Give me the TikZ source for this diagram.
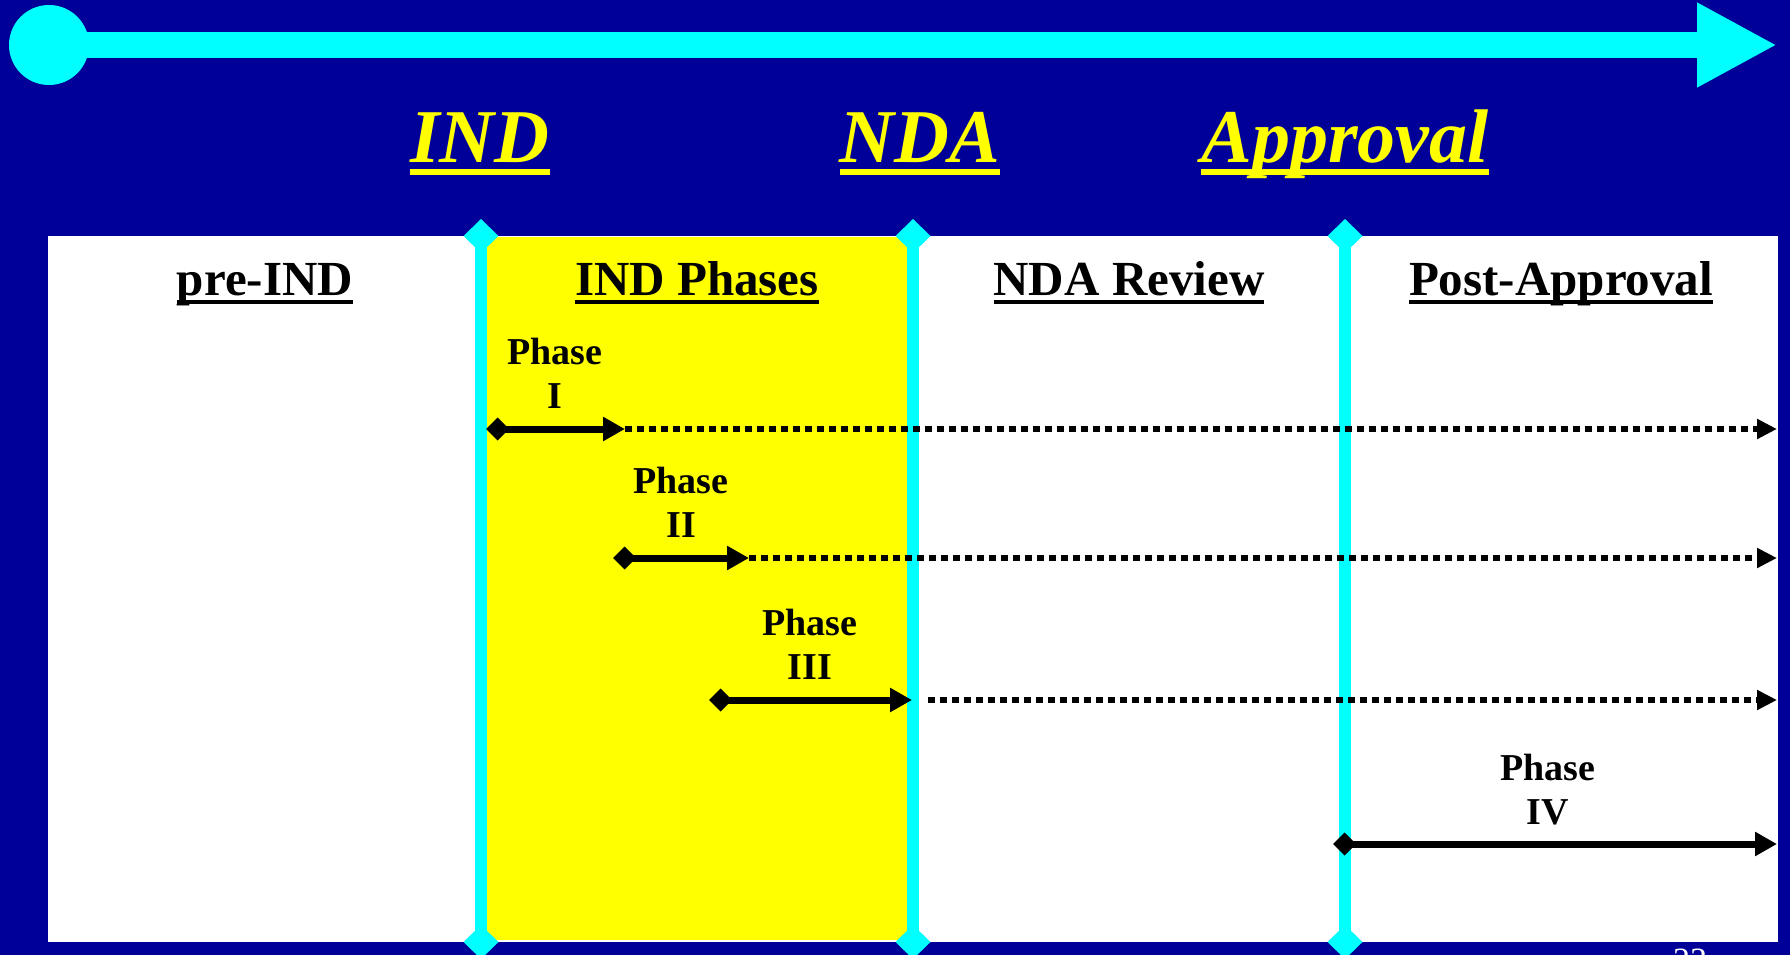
\documentclass[tikz,border=0pt]{standalone}
\usepackage{fontspec}
\setmainfont{Liberation Serif}
\usetikzlibrary{arrows.meta}
\definecolor{bgblue}{RGB}{0,0,153}
\definecolor{cyanc}{RGB}{0,255,255}
\definecolor{yel}{RGB}{255,255,0}
\newcommand\ulbox[3]{\setbox0\hbox{#3}\rlap{\rule[-#2]{\wd0}{#1}}\box0}
\tikzset{
  title/.style={anchor=base, inner sep=0pt, text=yel, font=\fontsize{76}{80}\selectfont\bfseries\itshape},
  hdr/.style={anchor=base, inner sep=0pt, text=black, font=\fontsize{49}{54}\selectfont\bfseries},
  plabel/.style={anchor=south, inner sep=0pt, text depth=0pt, align=center, text=black, font=\fontsize{38}{44}\selectfont\bfseries},
  vline/.style={draw=cyanc, line width=12pt, {Diamond[length=34pt,width=35pt]}-{Diamond[length=34pt,width=35pt]}},
  phasearrow/.style={draw=black, line width=7pt, {Diamond[length=23pt,width=23pt]}-{Triangle[length=22pt,width=23pt]}},
  dotline/.style={draw=black, line width=6pt, dash pattern=on 7pt off 5pt, -{Triangle[length=20pt,width=19pt]}},
  pagenum/.style={anchor=base, inner sep=0pt, text=white, font=\fontsize{34}{36}\selectfont}
}
\begin{document}
\begin{tikzpicture}[x=1pt,y=-1pt]
\useasboundingbox (0,0) rectangle (1790,955);
\fill[bgblue] (0,0) rectangle (1790,955);
% timeline
\node[circle, fill=cyanc, minimum size=80pt, inner sep=0pt] (start) at (49,45) {};
\coordinate (tend) at (1777,45);
\draw[cyanc, line width=26pt, -{Triangle[length=80pt,width=79pt]}] (start.center) -- (tend);
% titles
\node[title] (tind) at (480,162) {\ulbox{6pt}{13pt}{IND}};
\node[title] (tnda) at (920,162) {\ulbox{6pt}{13pt}{NDA}};
\node[title] (tapp) at (1345,162) {\ulbox{6pt}{13pt}{Approval}};
% panel
\fill[white] (48,236) rectangle (1778,942);
\fill[yel] (487,237) rectangle (908,940);
% vertical milestone lines
\coordinate (v1t) at (481,219); \coordinate (v1b) at (481,959);
\coordinate (v2t) at (913,219); \coordinate (v2b) at (913,959);
\coordinate (v3t) at (1345,219); \coordinate (v3b) at (1345,959);
\draw[vline] (v1t) -- (v1b);
\draw[vline] (v2t) -- (v2b);
\draw[vline] (v3t) -- (v3b);
% headers
\node[hdr] (hpre) at (265,295) {\ulbox{4pt}{9pt}{pre-IND}};
\node[hdr] (hind) at (697,295) {\ulbox{4pt}{9pt}{IND Phases}};
\node[hdr] (hnda) at (1129,295) {\ulbox{4pt}{9pt}{NDA Review}};
\node[hdr] (hpost) at (1561,295) {\ulbox{4pt}{9pt}{Post-Approval}};
% phases
\coordinate (p1s) at (486,429); \coordinate (p1e) at (625,429); \coordinate (p1f) at (1777,429);
\coordinate (p2s) at (613,558); \coordinate (p2e) at (749,558); \coordinate (p2f) at (1777,558);
\coordinate (p3s) at (709,700); \coordinate (p3e) at (912,700); \coordinate (p3d) at (928,700); \coordinate (p3f) at (1777,700);
\coordinate (p4s) at (1333,844); \coordinate (p4e) at (1777,844);
\draw[dotline] (p1e) -- (p1f);
\draw[dotline] (p2e) -- (p2f);
\draw[dotline] (p3d) -- (p3f);
\draw[phasearrow] (p1s) -- (p1e);
\draw[phasearrow] (p2s) -- (p2e);
\draw[phasearrow] (p3s) -- (p3e);
\draw[phasearrow] (p4s) -- (p4e);
\node[plabel] (l1) at (555,409) {Phase\\I};
\node[plabel] (l2) at (681,538) {Phase\\II};
\node[plabel] (l3) at (810,680) {Phase\\III};
\node[plabel] (l4) at (1548,825) {Phase\\IV};
% page number (cut off by the page edge, as in the reference)
\node[pagenum] (pnum) at (1690,971) {23};
\end{tikzpicture}
\end{document}
